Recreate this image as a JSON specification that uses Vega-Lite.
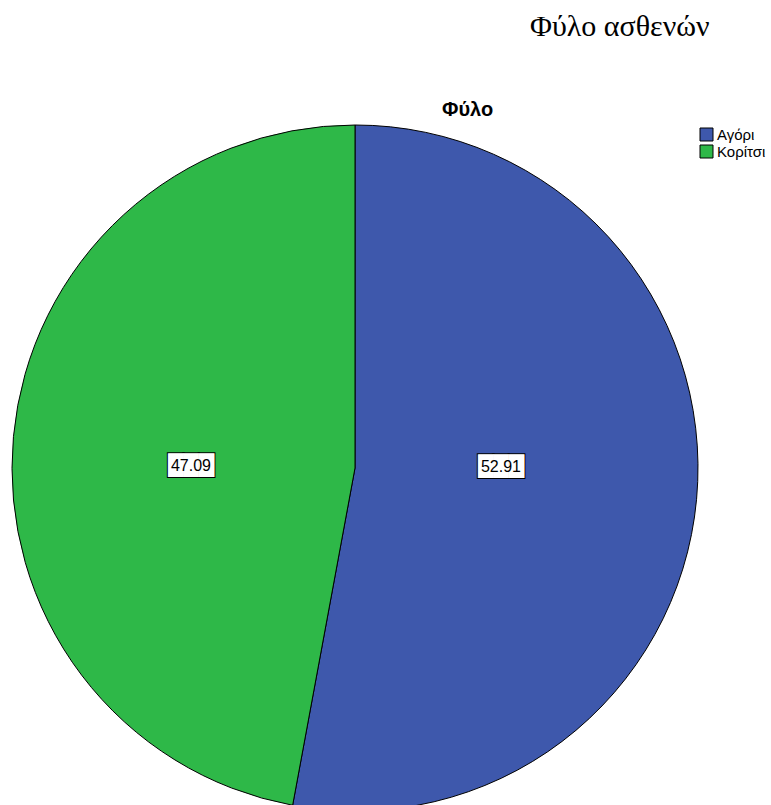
{
  "$schema": "https://vega.github.io/schema/vega-lite/v6.json",
  "padding": {"left": 10, "top": 12, "right": 0, "bottom": 0},
  "background": "white",
  "title": {"text": "Φύλο ασθενών", "font": "Liberation Serif", "fontSize": 30, "fontWeight": "normal", "color": "black", "anchor": "start", "frame": "group", "dx": 518, "baseline": "alphabetic", "offset": 34},
  "config": {"view": {"stroke": null}, "concat": {"spacing": 0}},
  "vconcat": [
    {
      "title": {"text": "Φύλο", "font": "Liberation Sans", "fontSize": 20, "fontWeight": "bold", "color": "black", "anchor": "start", "frame": "group", "dx": 430, "baseline": "alphabetic", "offset": -13},
      "width": 686,
      "height": 646,
      "data": {"values": [
        {"gender": "Αγόρι", "pct": 52.91},
        {"gender": "Κορίτσι", "pct": 47.09}
      ]},
      "layer": [
        {
          "mark": {"type": "arc", "radius": 343, "stroke": "black", "strokeWidth": 1},
          "encoding": {
            "theta": {"field": "pct", "type": "quantitative", "stack": true},
            "order": {"field": "gender", "type": "nominal", "sort": "ascending"},
            "color": {
              "field": "gender", "type": "nominal",
              "scale": {"domain": ["Αγόρι", "Κορίτσι"], "range": ["#3E58AC", "#2EB848"]},
              "legend": {"title": null, "orient": "none", "legendX": 687, "legendY": -18, "symbolType": "square", "symbolSize": 169, "symbolStrokeColor": "black", "symbolStrokeWidth": 1, "symbolOpacity": 1, "labelFont": "Liberation Sans", "labelFontSize": 15, "labelColor": "black", "rowPadding": 0, "padding": 0, "labelOffset": 3}
            }
          }
        },
        {
          "mark": {"type": "text", "radius": 146.6, "dy": -14, "text": "███", "font": "DejaVu Sans", "fontSize": 20, "fillOpacity": 0, "stroke": "black", "strokeWidth": 2, "align": "center", "baseline": "middle"},
          "encoding": {
            "theta": {"field": "pct", "type": "quantitative", "stack": true},
            "order": {"field": "gender", "type": "nominal", "sort": "ascending"},
            "detail": {"field": "gender", "type": "nominal"},
            "opacity": {"condition": {"test": "datum.gender === 'Αγόρι'", "value": 1}, "value": 0}
          }
        },
        {
          "mark": {"type": "text", "radius": 146.6, "dy": -14, "text": "███", "font": "DejaVu Sans", "fontSize": 20, "color": "white", "align": "center", "baseline": "middle"},
          "encoding": {
            "theta": {"field": "pct", "type": "quantitative", "stack": true},
            "order": {"field": "gender", "type": "nominal", "sort": "ascending"},
            "detail": {"field": "gender", "type": "nominal"},
            "opacity": {"condition": {"test": "datum.gender === 'Αγόρι'", "value": 1}, "value": 0}
          }
        },
        {
          "mark": {"type": "text", "radius": 146.6, "dy": -14, "font": "Liberation Sans", "fontSize": 16, "color": "black", "align": "center", "baseline": "middle"},
          "encoding": {
            "theta": {"field": "pct", "type": "quantitative", "stack": true},
            "order": {"field": "gender", "type": "nominal", "sort": "ascending"},
            "detail": {"field": "gender", "type": "nominal"},
            "text": {"field": "pct", "type": "quantitative", "format": ".2f"},
            "opacity": {"condition": {"test": "datum.gender === 'Αγόρι'", "value": 1}, "value": 0}
          }
        },
        {
          "mark": {"type": "text", "radius": 164.7, "dy": 13, "text": "███", "font": "DejaVu Sans", "fontSize": 20, "fillOpacity": 0, "stroke": "black", "strokeWidth": 2, "align": "center", "baseline": "middle"},
          "encoding": {
            "theta": {"field": "pct", "type": "quantitative", "stack": true},
            "order": {"field": "gender", "type": "nominal", "sort": "ascending"},
            "detail": {"field": "gender", "type": "nominal"},
            "opacity": {"condition": {"test": "datum.gender === 'Κορίτσι'", "value": 1}, "value": 0}
          }
        },
        {
          "mark": {"type": "text", "radius": 164.7, "dy": 13, "text": "███", "font": "DejaVu Sans", "fontSize": 20, "color": "white", "align": "center", "baseline": "middle"},
          "encoding": {
            "theta": {"field": "pct", "type": "quantitative", "stack": true},
            "order": {"field": "gender", "type": "nominal", "sort": "ascending"},
            "detail": {"field": "gender", "type": "nominal"},
            "opacity": {"condition": {"test": "datum.gender === 'Κορίτσι'", "value": 1}, "value": 0}
          }
        },
        {
          "mark": {"type": "text", "radius": 164.7, "dy": 13, "font": "Liberation Sans", "fontSize": 16, "color": "black", "align": "center", "baseline": "middle"},
          "encoding": {
            "theta": {"field": "pct", "type": "quantitative", "stack": true},
            "order": {"field": "gender", "type": "nominal", "sort": "ascending"},
            "detail": {"field": "gender", "type": "nominal"},
            "text": {"field": "pct", "type": "quantitative", "format": ".2f"},
            "opacity": {"condition": {"test": "datum.gender === 'Κορίτσι'", "value": 1}, "value": 0}
          }
        }
      ]
    }
  ]
}
